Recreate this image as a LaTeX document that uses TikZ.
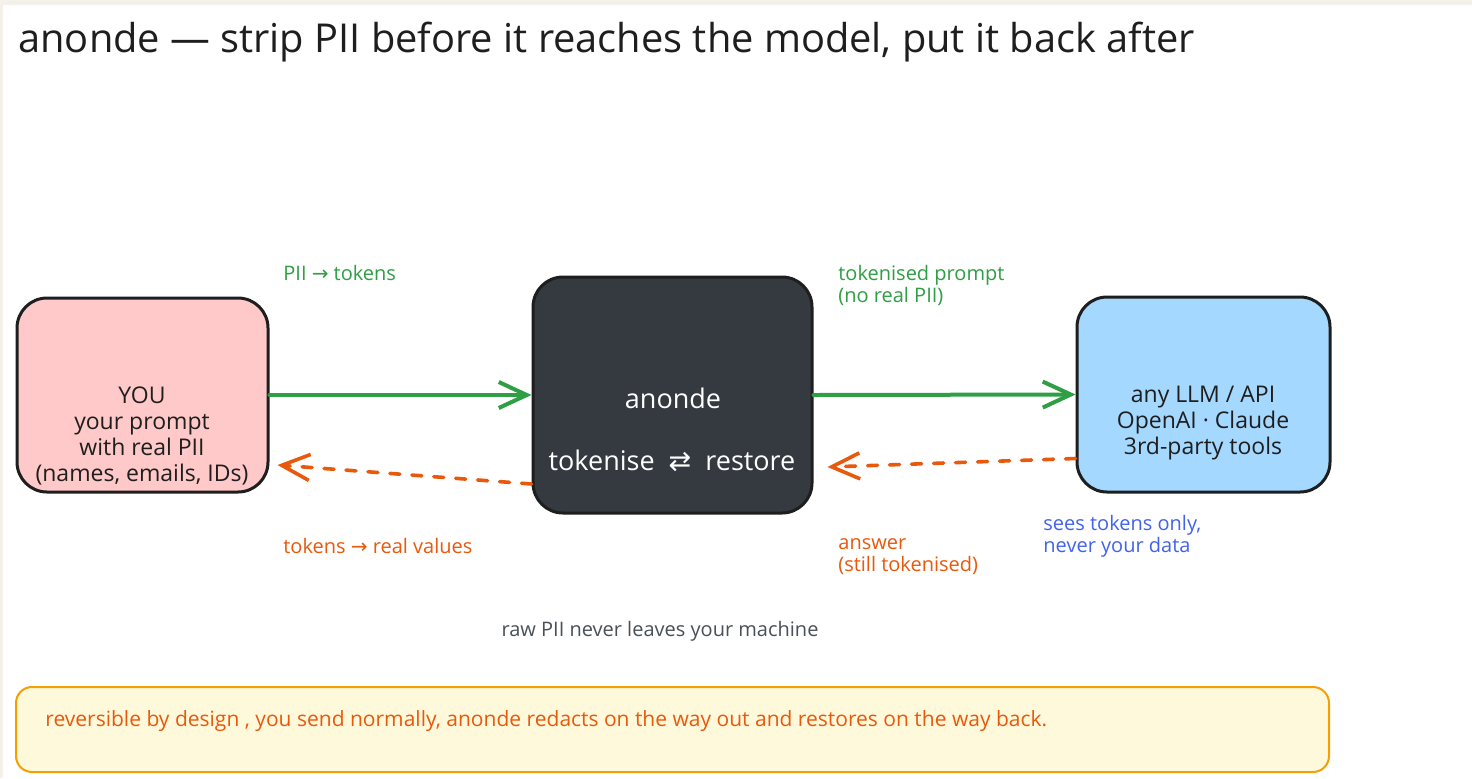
\documentclass[tikz,border=0pt]{standalone}
\usepackage{fontspec}
\setmainfont{Open Sans}
\newfontfamily\symfont{DejaVu Sans}
\usepackage{xcolor}
\usetikzlibrary{positioning}
\usetikzlibrary{arrows.meta}

\definecolor{paper}{HTML}{F4F1EA}
\definecolor{ink}{HTML}{1E1E1E}
\definecolor{youfill}{HTML}{FFC9C9}
\definecolor{corefill}{HTML}{343A40}
\definecolor{llmfill}{HTML}{A5D8FF}
\definecolor{goodgreen}{HTML}{2F9E44}
\definecolor{backorange}{HTML}{E8590C}
\definecolor{seeblue}{HTML}{4263EB}
\definecolor{mutedgray}{HTML}{495057}
\definecolor{notefill}{HTML}{FFF9DB}
\definecolor{noteline}{HTML}{F59F00}

\begin{document}
\begin{tikzpicture}[x=0.5pt,y=-0.5pt,
	box/.style={draw=ink,line width=1.5pt,rounded corners=15pt,inner sep=0pt},
	boxtext/.style={align=center,font=\fontsize{11.5}{13}\selectfont,text=ink},
	lbl/.style={anchor=west,align=left,inner sep=0pt,font=\fontsize{10}{11}\selectfont},
	flow/.style={draw=goodgreen,line width=2pt,line cap=round,-{Straight Barb[length=14pt,width=13pt]}},
	back/.style={draw=backorange,line width=1.8pt,line cap=round,dash pattern=on 5pt off 6pt,-{Straight Barb[length=14pt,width=13pt]}}]
	
	% page
	\fill[paper] (0,0) rectangle (1472,778);
	\fill[white] (3,5) rectangle (1472,778);
	\useasboundingbox (0,0) rectangle (1472,778);
	
	% title
	\node[anchor=base west,inner sep=0pt,font=\fontsize{19.9}{23}\selectfont,text=ink] (title) at (18,52) {anonde — strip PII before it reaches the model, put it back after};
	
	% the three boxes
	\node[box,fill=youfill,minimum width=125.5pt,minimum height=97pt] (you) at (142.5,395) {};
	\node[box,fill=corefill,minimum width=139.5pt,minimum height=118pt] (anonde) at (672.5,395) {};
	\node[box,fill=llmfill,minimum width=126.5pt,minimum height=97.5pt] (llm) at (1203.5,394.5) {};
	
	% box texts
	\node[boxtext] (youtxt) at (142,436) {YOU\\your prompt\\with real PII\\(names, emails, IDs)};
	\node[boxtext,text=white,font=\fontsize{13.5}{15}\selectfont] (anondetxt) at (673,398) {anonde};
	\node[boxtext,text=white,font=\fontsize{13.5}{15}\selectfont] (anondeops) at (672,461) {tokenise~~{\symfont ⇄}~~restore};
	\node[boxtext] (llmtxt) at (1203,423) {any LLM / API\\OpenAI · Claude\\3rd-party tools};
	
	% way out
	\draw[flow] (you.east) -- (anonde.west);
	\draw[flow] (anonde.east) -- (llm.west);
	
	% way back
	\draw[back] ([yshift=-32pt]llm.west) -- ([yshift=-36pt,xshift=7pt]anonde.east);
	\draw[back] ([yshift=-44.5pt]anonde.west) -- ([yshift=-35pt,xshift=4pt]you.east);
	
	% labels
	\node[lbl,text=goodgreen] (outlbl) at (283,273) {PII {\symfont →} tokens};
	\node[lbl,text=goodgreen] (sentlbl) at (838,285) {tokenised prompt\\(no real PII)};
	\node[lbl,text=backorange] (backlbl) at (283,546) {tokens {\symfont →} real values};
	\node[lbl,text=backorange] (answerlbl) at (838,557) {answer\\(still tokenised)};
	\node[lbl,text=seeblue] (seeslbl) at (1043,536) {sees tokens only,\\never your data};
	\node[lbl,anchor=center,text=mutedgray] (rawlbl) at (660,631) {raw PII never leaves your machine};
	
	% note
	\node[draw=noteline,fill=notefill,line width=1pt,rounded corners=8pt,minimum width=656.5pt,minimum height=42.5pt,inner sep=0pt] (note) at (672.5,729.5) {};
	\node[lbl,text=backorange,font=\fontsize{10.5}{12}\selectfont] (notetxt) at (45,721) {reversible by design , you send normally, anonde redacts on the way out and restores on the way back.};
	
\end{tikzpicture}
\end{document}
